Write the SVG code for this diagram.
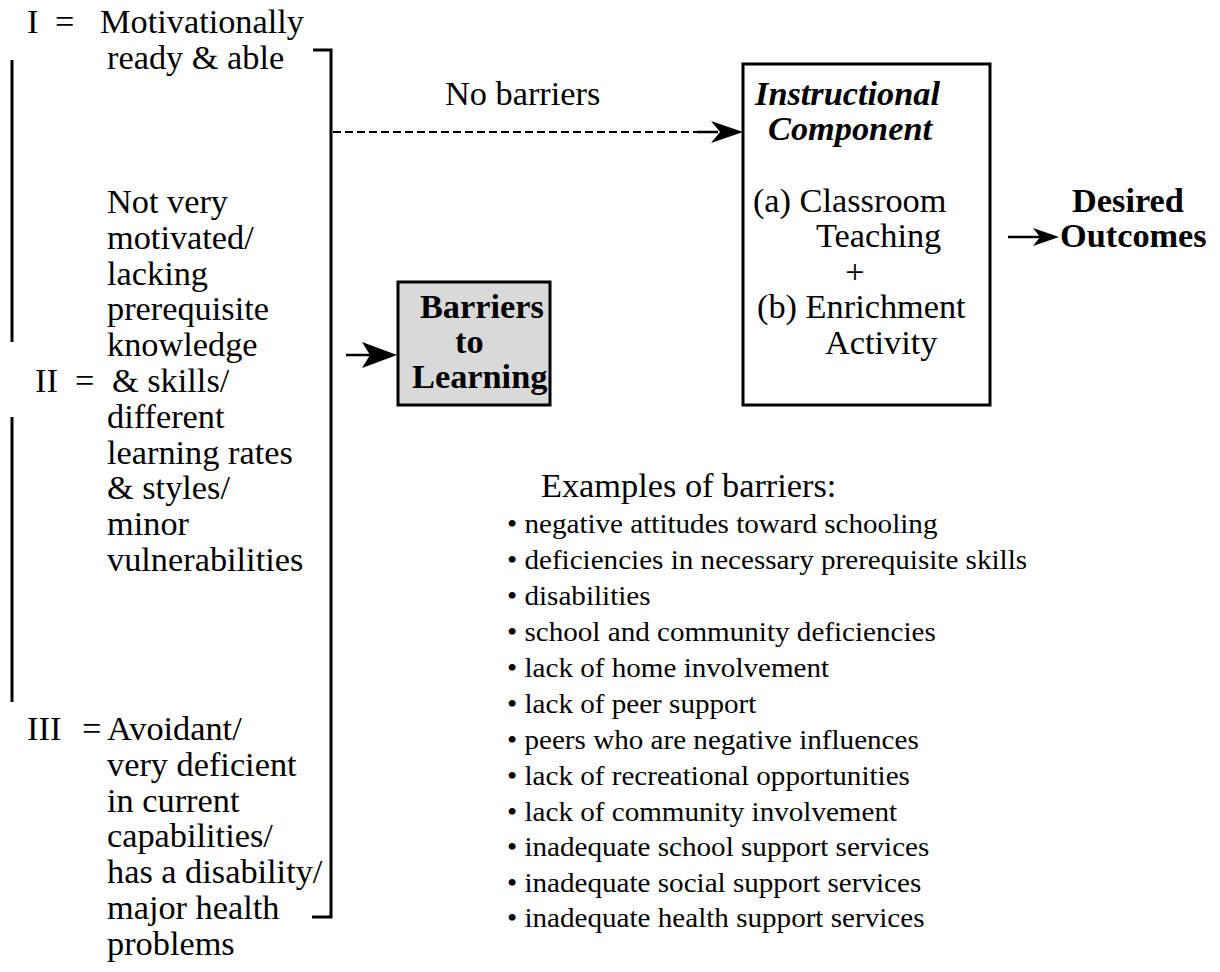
<svg xmlns="http://www.w3.org/2000/svg" width="1220" height="972" viewBox="0 0 1220 972">
  <style>
    .t { font-family: "Liberation Serif", "Times New Roman", serif; font-size: 33px; fill: #000; }
    .b { font-weight: bold; }
    .bi { font-weight: bold; font-style: italic; }
    .s { font-size: 28px; }
    .ln { fill: none; stroke: #000; stroke-width: 3; }
    .dash { fill: none; stroke: #000; stroke-width: 2; stroke-dasharray: 8 4; }
    .head { fill: #000; stroke: none; }
  </style>
  <rect width="1220" height="972" fill="#fff"/>

  <!-- student groups on the left -->
  <g id="groups">
    <line class="ln" x1="12" y1="60" x2="12" y2="342"/>
    <line class="ln" x1="12" y1="417" x2="12" y2="702"/>
    <path class="ln" d="M313,50 H331 V917 H312"/>
    <g transform="scale(1.04,1)">
      <text class="t" x="26" y="33">I</text>
      <text class="t" x="52.9" y="33">=</text>
      <text class="t" x="96.2" y="33">Motivationally</text>
      <text class="t" x="102.9" y="69">ready &amp; able</text>

      <text class="t" x="102.9" y="213">Not very</text>
      <text class="t" x="102.9" y="249">motivated/</text>
      <text class="t" x="102.9" y="285">lacking</text>
      <text class="t" x="102.9" y="320">prerequisite</text>
      <text class="t" x="102.9" y="356">knowledge</text>
      <text class="t" x="33.7" y="392">II</text>
      <text class="t" x="72.1" y="392">=</text>
      <text class="t" x="107.7" y="392">&amp; skills/</text>
      <text class="t" x="102.9" y="428">different</text>
      <text class="t" x="102.9" y="464">learning rates</text>
      <text class="t" x="102.9" y="499">&amp; styles/</text>
      <text class="t" x="102.9" y="535">minor</text>
      <text class="t" x="102.9" y="571">vulnerabilities</text>

      <text class="t" x="26" y="740">III</text>
      <text class="t" x="78.8" y="740">=</text>
      <text class="t" x="102.9" y="740">Avoidant/</text>
      <text class="t" x="102.9" y="776">very deficient</text>
      <text class="t" x="102.9" y="812">in current</text>
      <text class="t" x="102.9" y="847">capabilities/</text>
      <text class="t" x="102.9" y="883">has a disability/</text>
      <text class="t" x="102.9" y="919">major health</text>
      <text class="t" x="102.9" y="955">problems</text>
    </g>
  </g>

  <!-- barriers box -->
  <g id="barriers">
    <rect x="398" y="282" width="152" height="123" fill="#d9d9d9" stroke="#000" stroke-width="3"/>
    <g transform="scale(1.04,1)">
      <text class="t b" x="403.8" y="318">Barriers</text>
      <text class="t b" x="437.5" y="353">to</text>
      <text class="t b" x="396.2" y="388">Learning</text>
    </g>
  </g>

  <!-- instructional component box -->
  <g id="instructional">
    <rect x="743" y="64" width="247" height="341" fill="none" stroke="#000" stroke-width="3"/>
    <g transform="scale(1.04,1)">
      <text class="t bi" x="726" y="105">Instructional</text>
      <text class="t bi" x="738.5" y="140">Component</text>
      <text class="t" x="724" y="212">(a) Classroom</text>
      <text class="t" x="784.6" y="247">Teaching</text>
      <text class="t" x="822.1" y="283" text-anchor="middle">+</text>
      <text class="t" x="727.9" y="318">(b) Enrichment</text>
      <text class="t" x="793.3" y="354">Activity</text>
    </g>
  </g>

  <!-- outcome -->
  <g id="outcomes">
    <g transform="scale(1.04,1)">
      <text class="t b" x="1030.8" y="212">Desired</text>
      <text class="t b" x="1019.2" y="247">Outcomes</text>
    </g>
  </g>

  <!-- examples list -->
  <g id="examples">
    <g transform="scale(1.04,1)">
      <text class="t" x="520.2" y="497">Examples of barriers:</text>
      <text class="t s" x="487.5" y="533">• negative attitudes toward schooling</text>
      <text class="t s" x="487.5" y="569">• deficiencies in necessary prerequisite skills</text>
      <text class="t s" x="487.5" y="605">• disabilities</text>
      <text class="t s" x="487.5" y="641">• school and community deficiencies</text>
      <text class="t s" x="487.5" y="677">• lack of home involvement</text>
      <text class="t s" x="487.5" y="713">• lack of peer support</text>
      <text class="t s" x="487.5" y="749">• peers who are negative influences</text>
      <text class="t s" x="487.5" y="785">• lack of recreational opportunities</text>
      <text class="t s" x="487.5" y="821">• lack of community involvement</text>
      <text class="t s" x="487.5" y="856">• inadequate school support services</text>
      <text class="t s" x="487.5" y="892">• inadequate social support services</text>
      <text class="t s" x="487.5" y="927">• inadequate health support services</text>
    </g>
  </g>

  <!-- connectors -->
  <g id="connectors">
    <g transform="scale(1.04,1)">
      <text class="t" x="427.9" y="105">No barriers</text>
    </g>
    <line class="dash" x1="333" y1="132" x2="697" y2="132"/>
    <line x1="697" y1="132" x2="718" y2="132" stroke="#000" stroke-width="2.5"/>
    <polygon class="head" points="743,132 711,121 720,132 711,143"/>

    <line x1="346" y1="355" x2="370" y2="355" stroke="#000" stroke-width="2.5"/>
    <polygon class="head" points="397,355 362,342 370,355 362,368"/>

    <line x1="1008" y1="237" x2="1040" y2="237" stroke="#000" stroke-width="2.5"/>
    <polygon class="head" points="1059,237 1033,228 1040,237 1033,246"/>
  </g>
</svg>
